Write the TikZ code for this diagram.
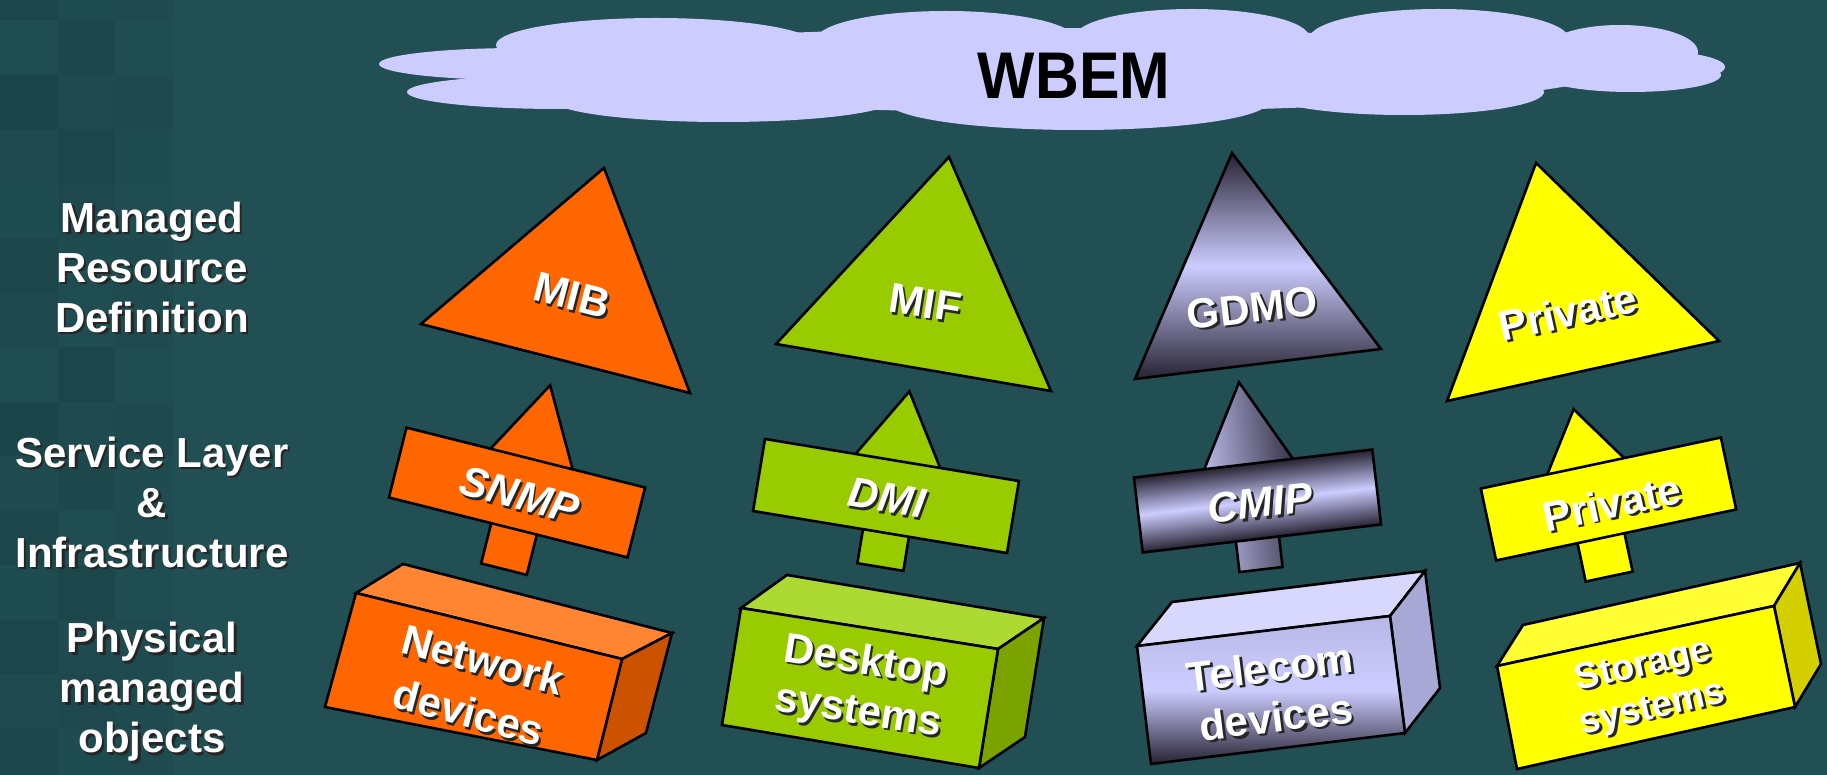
\documentclass[tikz,border=0pt]{standalone}
\usepackage{fontspec}
\setmainfont{Liberation Sans}
\newfontfamily\wbemfont[FakeStretch=0.92]{Liberation Sans}

\definecolor{bg}{RGB}{33,79,84}
\definecolor{cloudfill}{RGB}{204,204,255}
\definecolor{org}{RGB}{255,102,0}
\definecolor{orgtop}{RGB}{255,133,51}
\definecolor{orgside}{RGB}{204,82,0}
\definecolor{grn}{RGB}{153,204,0}
\definecolor{grntop}{RGB}{173,217,51}
\definecolor{grnside}{RGB}{122,163,0}
\definecolor{lav}{RGB}{204,204,255}
\definecolor{lavdark}{RGB}{38,34,50}
\definecolor{lavtop}{RGB}{216,216,255}
\definecolor{lavside}{RGB}{168,168,214}
\definecolor{ylw}{RGB}{255,255,0}
\definecolor{ylwtop}{RGB}{255,255,51}
\definecolor{ylwside}{RGB}{212,208,0}

% white bold text with a dark drop shadow
\newcommand\shadowlabel[5]{%
  \node[#4, text=black!85, rotate=#3, xshift=2.5pt, yshift=-2.5pt] (#1-shadow) at (#2) {#5};
  \node[#4, text=white, rotate=#3] (#1) at (#2) {#5};}

\begin{document}
\begin{tikzpicture}[x=1pt, y=-1pt,
  shapeline/.style={draw=black, line width=2.6pt},
  lbl/.style={font=\fontsize{42}{50}\selectfont\bfseries, align=center, inner sep=0pt},
  wlbl/.style={font=\fontsize{42}{54}\selectfont\bfseries, align=center, inner sep=0pt},
  ilbl/.style={font=\fontsize{42}{50}\selectfont\bfseries\itshape, align=center, inner sep=0pt},
  slbl/.style={font=\fontsize{37}{44}\selectfont\bfseries, align=center, inner sep=0pt},
  lavband/.style={top color=lavdark, bottom color=lavdark, middle color=lav}]

% background
\fill[bg] (0,0) rectangle (1827,775);
\useasboundingbox (0,0) rectangle (1827,775);

% checkered strip on the left, fading to the right
\foreach \c/\shades in {0/{.10,.02,.12,.05,.03,.11,.08,.02,.12,.04,.10,.03,.11,.06,.09},
                        1/{.03,.09,.04,.10,.08,.03,.02,.10,.04,.09,.02,.10,.05,.08,.03},
                        2/{.06,.02,.07,.03,.02,.06,.05,.02,.07,.03,.06,.02,.06,.04,.05}}{
  \foreach \op [count=\r from 0] in \shades {
    \pgfmathsetmacro\cellx{57.7*\c}
    \pgfmathsetmacro\celly{-34.5+54.5*\r}
    \fill[black, opacity=\op] (\cellx,\celly) rectangle ++(57.7,54.5);
  }
}

% cloud
\begin{scope}[fill=cloudfill]
  \fill (520,64) ellipse [x radius=141, y radius=16];
  \fill (560,92) ellipse [x radius=153, y radius=17];
  \fill (656,45) ellipse [x radius=160, y radius=27];
  \fill (946,40) ellipse [x radius=130, y radius=29];
  \fill (1192,37) ellipse [x radius=117, y radius=28];
  \fill (1439,39) ellipse [x radius=130, y radius=30];
  \fill (1620,52) ellipse [x radius=78, y radius=27];
  \fill (1640,67) ellipse [x radius=85, y radius=17];
  \fill (1631,75) ellipse [x radius=90, y radius=17];
  \fill (723,100) ellipse [x radius=170, y radius=22];
  \fill (1078,102) ellipse [x radius=190, y radius=28];
  \fill (1404,92) ellipse [x radius=140, y radius=23];
  \fill (1050,70) ellipse [x radius=560, y radius=42];
\end{scope}
\node[font=\wbemfont\fontsize{66}{70}\selectfont\bfseries, inner sep=0pt] (wbem) at (1074,76) {WBEM};

% row labels
\shadowlabel{rowdef}{152,267}{0}{lbl}{Managed\\Resource\\Definition}
\shadowlabel{rowsvc}{152,502}{0}{lbl}{Service Layer\\\&\\Infrastructure}
\shadowlabel{rowphy}{152,692}{0}{lbl}{Physical\\managed\\objects}

% definition triangles
\draw[shapeline, fill=org] (604,168) -- (421,324) -- (690,393) -- cycle;
\draw[shapeline, fill=grn] (949,157) -- (776,344) -- (1051,391) -- cycle;
\draw[shapeline, lavband] (1232,153) -- (1135,379) -- (1381,349) -- cycle;
\draw[shapeline, fill=ylw] (1536,163) -- (1447,401) -- (1719,341) -- cycle;

\shadowlabel{mib}{572,295}{-14.5}{lbl}{MIB}
\shadowlabel{mif}{925,303}{-9}{lbl}{MIF}
\shadowlabel{gdmo}{1252,308}{6.5}{lbl}{GDMO}
\shadowlabel{privdef}{1568,312}{12.5}{lbl}{Private}

% service signs: an up arrow behind a tilted board
\begin{scope}[shift={(517,492.5)}, rotate=-14.1]
  \pgflowlevelsynccm
  \draw[shapeline, fill=org] (-17.5,77.5) -- (29.5,77.5) -- (29.5,-15) -- (60,-15) -- (6,-112) -- (-48,-15) -- (-17.5,-15) -- cycle;
  \draw[shapeline, fill=org] (-123,-36) rectangle (123,36);
\end{scope}
\begin{scope}[shift={(886,496)}, rotate=-9.4]
  \pgflowlevelsynccm
  \draw[shapeline, fill=grn] (-17.3,71) -- (29.3,71) -- (29.3,-15) -- (62,-15) -- (6,-107) -- (-50,-15) -- (-17.3,-15) -- cycle;
  \draw[shapeline, fill=grn] (-128.7,-36.5) rectangle (128.7,36.5);
\end{scope}
\begin{scope}[shift={(1257.5,501)}, rotate=6.7]
  \pgflowlevelsynccm
  \draw[shapeline, left color=lav, right color=lavdark] (-26.2,68.5) -- (17.2,68.5) -- (17.2,-15) -- (52.5,-15) -- (-4.5,-120) -- (-61.5,-15) -- (-26.2,-15) -- cycle;
  \draw[shapeline, lavband] (-120,-37.75) rectangle (120,37.75);
\end{scope}
\begin{scope}[shift={(1608.5,499)}, rotate=12]
  \pgflowlevelsynccm
  \draw[shapeline, fill=ylw] (-39.5,76) -- (8.5,76) -- (8.5,-15) -- (38.5,-15) -- (-15.5,-95) -- (-69.5,-15) -- (-39.5,-15) -- cycle;
  \draw[shapeline, fill=ylw] (-122.7,-36.75) rectangle (122.7,36.75);
\end{scope}

\shadowlabel{snmp}{520,495}{-14.5}{ilbl}{SNMP}
\shadowlabel{dmi}{887,498}{-9.4}{ilbl}{DMI}
\shadowlabel{cmip}{1260,503}{6.7}{ilbl}{CMIP}
\shadowlabel{privsvc}{1612,503}{12}{lbl}{Private}

% physical objects: blocks
\draw[shapeline, fill=orgtop] (356,593) -- (403,564) -- (672,633) -- (622,659) -- cycle;
\draw[shapeline, fill=orgside] (622,659) -- (672,633) -- (646,733) -- (597,760) -- cycle;
\draw[shapeline, fill=org] (356,593) -- (622,659) -- (597,760) -- (325,707) -- cycle;

\draw[shapeline, fill=grntop] (741,608) -- (787,575) -- (1044,618) -- (998,649) -- cycle;
\draw[shapeline, fill=grnside] (998,649) -- (1044,618) -- (1025,737) -- (979,768) -- cycle;
\draw[shapeline, fill=grn] (741,608) -- (998,649) -- (979,768) -- (722,725) -- cycle;

\draw[shapeline, fill=lavtop] (1137,646) -- (1172,602) -- (1425,571) -- (1390,616) -- cycle;
\draw[shapeline, fill=lavside] (1390,616) -- (1425,571) -- (1440,688) -- (1405,733) -- cycle;
\draw[shapeline, top color=lav!88!lavdark, bottom color=lavdark, middle color=lav] (1137,646) -- (1390,616) -- (1405,733) -- (1151,764) -- cycle;

\draw[shapeline, fill=ylwtop] (1497,666) -- (1523,625) -- (1800,563) -- (1774,606) -- cycle;
\draw[shapeline, fill=ylwside] (1774,606) -- (1800,563) -- (1821,664) -- (1795,707) -- cycle;
\draw[shapeline, fill=ylw] (1497,666) -- (1774,606) -- (1795,707) -- (1517,769) -- cycle;

\shadowlabel{network}{476,686}{-15}{wlbl}{Network\\devices}
\shadowlabel{desktop}{862,688}{-9}{lbl}{Desktop\\systems}
\shadowlabel{telecom}{1273,692}{7}{lbl}{Telecom\\devices}
\shadowlabel{storage}{1648,688}{12.5}{slbl}{Storage\\systems}

\end{tikzpicture}
\end{document}
